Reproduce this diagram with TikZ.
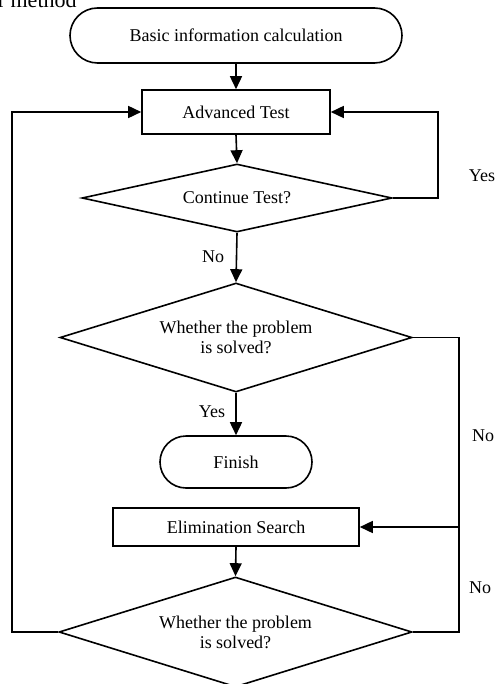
\documentclass[tikz,border=0pt]{standalone}
\usepackage{fontspec}
\setmainfont{Liberation Serif}
\usetikzlibrary{shapes.geometric,arrows.meta}
\begin{document}
\begin{tikzpicture}[x=0.5pt,y=-0.5pt,
  line width=0.8pt,
  font=\fontsize{9}{10}\selectfont,
  arr/.style={-{Triangle[length=6.5pt,width=6pt]}},
  term/.style={draw, rounded corners=#1, inner sep=0pt, align=center},
  proc/.style={draw, inner sep=0pt, align=center},
  dec/.style={draw, diamond, inner sep=0pt, aspect=3, align=center},
  lbl/.style={inner sep=0pt}]
\useasboundingbox (0,0) rectangle (497,684);
\clip (0,0) rectangle (497,684);
% partially visible caption
\node[anchor=base west, inner sep=0pt, font=\fontsize{11}{13}\selectfont] (ttl) at (-3,7.5) {r method};
% nodes
\node[term=13.75pt, minimum width=166pt, minimum height=27.5pt] (start) at (236,35.5) {Basic information calculation};
\node[proc, minimum width=94pt, minimum height=22pt] (adv) at (236,112) {Advanced Test};
\node[dec, minimum width=155pt, minimum height=34pt] (d1) at (237,198) {Continue Test?};
\node[dec, minimum width=176pt, minimum height=54.5pt] (d2) at (236,337.5) {Whether the problem\\is solved?};
\node[term=13pt, minimum width=76pt, minimum height=26pt] (fin) at (236,462) {Finish};
\node[proc, minimum width=123pt, minimum height=19pt] (elim) at (236,527) {Elimination Search};
\node[dec, minimum width=176.5pt, minimum height=55pt] (d3) at (235.5,632) {Whether the problem\\is solved?};
% labels
\node[lbl] (yes1) at (482,176) {Yes};
\node[lbl] (no1) at (213,257) {No};
\node[lbl] (yes2) at (212,412) {Yes};
\node[lbl] (no2) at (483,436) {No};
\node[lbl] (no3) at (480,588) {No};
% helper coordinates
\coordinate (r1) at (438,198);
\coordinate (r2) at (459,337.5);
\coordinate (r3) at (459,632);
\coordinate (l3) at (12,632);
% connectors
\draw[arr] (start.south) -- (adv.north);
\draw[arr] (adv.south) -- (d1.north);
\draw[arr] (d1.east) -- (r1) |- (adv.east);
\draw[arr] (d1.south) -- (d2.north);
\draw[arr] (d2.south) -- (fin.north);
\draw[arr] (d2.east) -- (r2) |- (elim.east);
\draw (d3.east) -- (r3) -- (r3 |- elim.east);
\draw[arr] (elim.south) -- (d3.north);
\draw[arr] (d3.west) -- (l3) |- (adv.west);
\end{tikzpicture}
\end{document}
